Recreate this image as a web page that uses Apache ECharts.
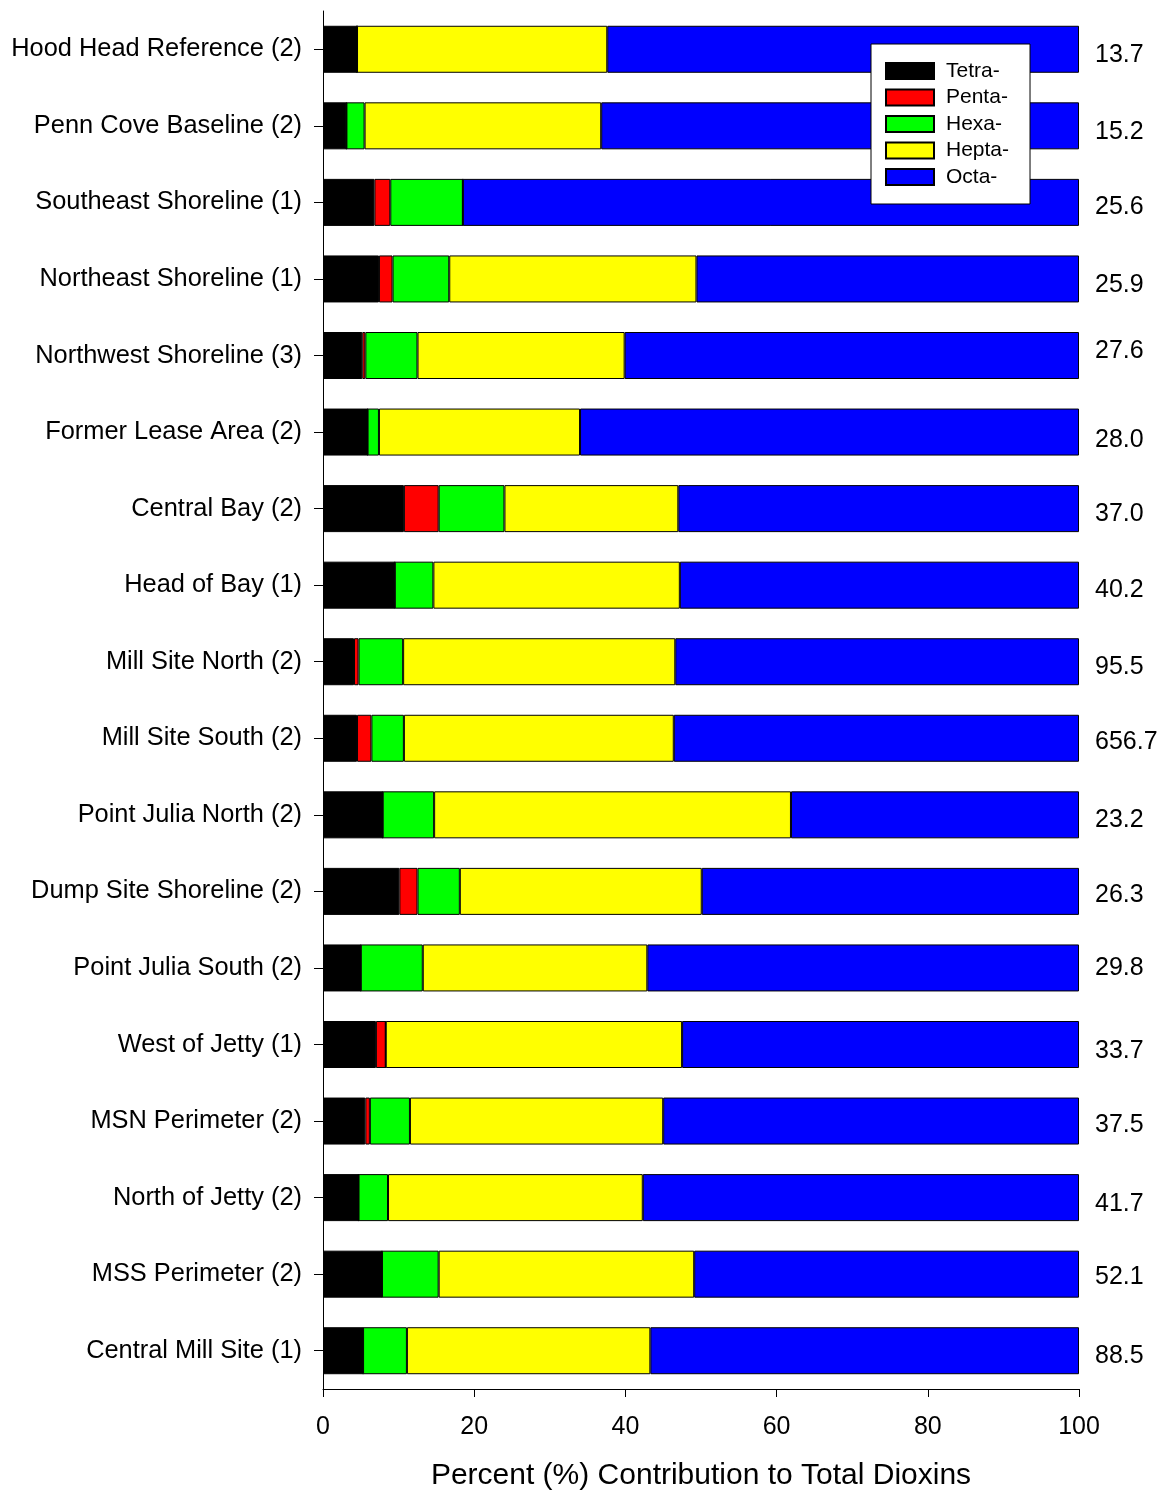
<!DOCTYPE html>
<html>
<head>
<meta charset="utf-8">
<script src="https://cdn.jsdelivr.net/npm/echarts@6/dist/echarts.min.js"></script>
<style>html,body{margin:0;padding:0;background:#fff;}#chart{width:1160px;height:1496px;}</style>
</head>
<body>
<div id="chart"></div>
<script>
const categories = ["Hood Head Reference (2)","Penn Cove Baseline (2)","Southeast Shoreline (1)","Northeast Shoreline (1)","Northwest Shoreline (3)","Former Lease Area (2)","Central Bay (2)","Head of Bay (1)","Mill Site North (2)","Mill Site South (2)","Point Julia North (2)","Dump Site Shoreline (2)","Point Julia South (2)","West of Jetty (1)","MSN Perimeter (2)","North of Jetty (2)","MSS Perimeter (2)","Central Mill Site (1)"];
const totals = ["13.7","15.2","25.6","25.9","27.6","28.0","37.0","40.2","95.5","656.7","23.2","26.3","29.8","33.7","37.5","41.7","52.1","88.5"];
const tetra = [4.5,3.1,6.8,7.4,5.2,5.9,10.7,9.5,4.1,4.5,7.9,10.1,5.0,7.0,5.6,4.7,7.8,5.3];
const penta = [0,0,2.1,1.8,0.4,0,4.6,0,0.6,1.9,0,2.4,0,1.3,0.6,0,0,0];
const hexa  = [0,2.4,9.6,7.5,6.9,1.5,8.7,5.1,5.9,4.3,6.8,5.6,8.2,0,5.3,3.9,7.5,5.8];
const hepta = [33.1,31.3,0,32.7,27.4,26.6,23.0,32.6,36.0,35.7,47.2,32.0,29.7,39.2,33.5,33.7,33.8,32.2];
const octa  = [62.4,63.2,81.5,50.6,60.1,66.0,53.0,52.8,53.4,53.6,38.1,49.9,57.1,52.5,55.0,57.7,50.9,56.7];
const xTicks = [0,20,40,60,80,100];

// styling: vertical nudge of each total label (px)
const labelDy = [6,6,5,6,-4,8,5,5,5,4,5,4,0,7,4,6,3,5];

const FONT = '"Liberation Sans", Arial, sans-serif';
const names = ["Tetra-","Penta-","Hexa-","Hepta-","Octa-"];
const colors = ["#000000","#ff0000","#00ff00","#ffff00","#0000ff"];
const dataSets = [tetra, penta, hexa, hepta, octa];

const chart = echarts.init(document.getElementById('chart'), null, {renderer:'canvas', width:1160, height:1496});
chart.setOption({
  animation:false,
  backgroundColor:'#fff',
  grid:{left:323, width:756, top:11, height:1385, containLabel:false},
  legend:{
    orient:'vertical', left:871, top:44,
    backgroundColor:'#fff', borderColor:'#000', borderWidth:1,
    padding:[16.5,21,16.5,14],
    itemWidth:48, itemHeight:16, itemGap:5.5, icon:'rect',
    textStyle:{fontFamily:FONT, fontSize:21, color:'#000', padding:[0,0,0,7]},
    data:names
  },
  xAxis:{
    type:'value', min:0, max:100, interval:20,
    axisLine:{show:true, lineStyle:{color:'#000', width:1}},
    axisTick:{show:true, length:8, lineStyle:{color:'#000'}},
    axisLabel:{fontFamily:FONT, fontSize:25, color:'#000', margin:26,
      formatter:function(v){return xTicks.indexOf(v)>=0 ? String(v) : '';}},
    splitLine:{show:false},
    name:'Percent (%) Contribution to Total Dioxins',
    nameLocation:'middle', nameGap:72,
    nameTextStyle:{fontFamily:FONT, fontSize:30, color:'#000'}
  },
  yAxis:{
    type:'category', data:categories, inverse:true,
    axisLine:{show:true, lineStyle:{color:'#000', width:1}},
    axisTick:{show:true, length:9, alignWithLabel:true, lineStyle:{color:'#000'}},
    axisLabel:{fontFamily:FONT, fontSize:25.4, color:'#000', margin:21}
  },
  series: names.map(function(n,i){
    const s = {
      name:n, type:'bar', stack:'total', barWidth:47,
      itemStyle:{color:colors[i], borderColor:'#000', borderWidth:1},
      data:dataSets[i]
    };
    if (i === 4) {
      s.data = dataSets[i].map(function(v,k){
        return {value:v, label:{offset:[0,labelDy[k]]}};
      });
      s.label = {show:true, position:'right', distance:16,
        fontFamily:FONT, fontSize:25, color:'#000',
        formatter:function(p){return totals[p.dataIndex];}};
    }
    return s;
  })
});
</script>
</body>
</html>
